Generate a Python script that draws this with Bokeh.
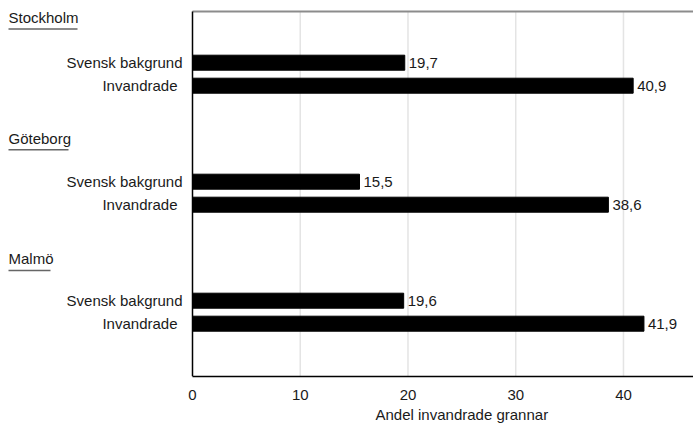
from bokeh.plotting import figure
from bokeh.models import ColumnDataSource, FixedTicker, Range1d, Title
from bokeh.embed import file_html
from bokeh.resources import INLINE
from bokeh.core.properties import value

# ---- data ----
cities = ["Stockholm", "Göteborg", "Malmö"]
groups = ["Svensk bakgrund", "Invandrade"]
svensk = [19.7, 15.5, 19.6]
invandrade = [40.9, 38.6, 41.9]
x_ticks = [0, 10, 20, 30, 40]
grid_ticks = [10, 20, 30, 40]
x_title = "Andel invandrade grannar"

# ---- layout / style ----
FONT = "Liberation Sans"
FS = "15px"
TXT = "#1a1a1a"
W, H = 693, 425
BOTTOM = 49
AXIS_X = 192                 # canvas px where x = 0 sits
HEAD_X = 8                   # canvas px of the group headers
TITLE_X = 375                # canvas px where the axis title starts
FRAME_H = H - BOTTOM         # 376
PPU = (W - AXIS_X) / 46.5    # px per x unit
X_START = -AXIS_X / PPU
X_END = (W - AXIS_X) / PPU
Y_TOP_PAD = 11               # data y 0 sits 11px below frame top
Y_BOT = FRAME_H - Y_TOP_PAD  # 365

GROUP0, GROUP_STEP, PAIR_HALF = 62.7, 119.0, 11.5
HEAD0, HEAD_STEP, UNDER = 5.9, 120.75, 11.5
BAR_H = 15
UNDER_W = [69, 60, 42]
LABEL_OFF = [-10, -15]

ys, vals, vtext, gtext, goff = [], [], [], [], []
for g, c in enumerate(cities):
    center = GROUP0 + g * GROUP_STEP
    for k, (grp, v) in enumerate(zip(groups, [svensk[g], invandrade[g]])):
        ys.append(center + (2 * k - 1) * PAIR_HALF)
        vals.append(v)
        vtext.append(f"{v:.1f}".replace(".", ","))
        gtext.append(grp)
        goff.append(LABEL_OFF[k])
src = ColumnDataSource(dict(y=ys, v=vals, vt=vtext, gt=gtext, off=goff,
                            zero=[0] * len(ys)))

hx = X_START + HEAD_X / PPU
hy = [HEAD0 + g * HEAD_STEP for g in range(len(cities))]
hsrc = ColumnDataSource(dict(
    y=hy, t=cities, x=[hx] * len(cities),
    uy=[h + UNDER for h in hy],
    ux1=[hx + w / PPU for w in UNDER_W]))

p = figure(width=W, height=H, output_backend="svg", toolbar_location=None,
           x_range=Range1d(X_START, X_END), y_range=Range1d(Y_BOT, -Y_TOP_PAD),
           min_border_left=0, min_border_right=0, min_border_top=0,
           min_border_bottom=BOTTOM)
p.yaxis.visible = False
p.outline_line_color = None
p.grid.visible = False

ax = p.xaxis[0]
ax.ticker = FixedTicker(ticks=x_ticks)
ax.bounds = (0, 50)
ax.major_tick_line_color = None
ax.minor_tick_line_color = None
ax.axis_line_color = "black"
ax.axis_line_width = 1.5
ax.major_label_standoff = 7
ax.major_label_text_font = FONT
ax.major_label_text_font_size = FS
ax.major_label_text_color = TXT

# axis title
p.add_layout(Title(text=x_title, align="left", offset=TITLE_X,
                   standoff=3, text_font=FONT, text_font_size=FS,
                   text_font_style="normal", text_color=TXT), "below")

# grid lines and frame lines
p.segment(x0=grid_ticks, y0=[0] * len(grid_ticks), x1=grid_ticks,
          y1=[Y_BOT] * len(grid_ticks), line_color="#e4e4e4", line_width=1.5)
p.segment(x0=[0], y0=[0], x1=[X_END], y1=[0], line_color="#8c8c8c", line_width=2)
p.segment(x0=[0], y0=[0], x1=[0], y1=[Y_BOT], line_color="black", line_width=1.5)

# bars
p.hbar(y="y", left=0, right="v", height=BAR_H, source=src, color="black")

# value labels
p.text(x="v", y="y", text="vt", source=src, x_offset=4,
       text_baseline="middle", text_align="left", text_font=value(FONT),
       text_font_size=FS, text_color=TXT)
# row labels
p.text(x="zero", y="y", text="gt", source=src, x_offset="off",
       text_baseline="middle", text_align="right", text_font=value(FONT),
       text_font_size=FS, text_color=TXT)
# group headers with underline
p.text(x="x", y="y", text="t", source=hsrc, text_baseline="middle",
       text_align="left", text_font=value(FONT), text_font_size=FS,
       text_color=TXT)
p.segment(x0="x", y0="uy", x1="ux1", y1="uy", source=hsrc,
          line_color="#666666", line_width=1.5)

open("out.html", "w").write(file_html(p, INLINE))
